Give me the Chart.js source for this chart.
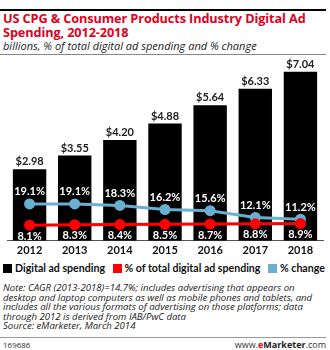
<!DOCTYPE html>
<html>
<head>
<meta charset="utf-8">
<script src="https://cdn.jsdelivr.net/npm/chart.js@4.4.1/dist/chart.umd.min.js"></script>
<style>
  body { margin: 0; width: 330px; height: 350px; background: #fff; font-family: "Open Sans", sans-serif; position: relative; overflow: hidden; }
  .topline { position: absolute; left: 0; top: 9px; width: 326px; height: 2px; background: #000; }
  .title { position: absolute; left: 3px; top: 12px; width: 325px; color: #e2001a; font-weight: bold; font-size: 12.7px; line-height: 13.5px; letter-spacing: -0.1px; }
  .sub { position: absolute; left: 3px; top: 38px; font-style: italic; font-size: 11px; color: #222; }
  .subline { position: absolute; left: 0; top: 54px; width: 326px; height: 1px; background: #888; }
  #wrap { position: absolute; left: 0; top: 56px; width: 330px; height: 204px; }
  .legend { position: absolute; left: 3px; top: 262px; font-family: Lato, sans-serif; font-weight: bold; font-size: 10.6px; color: #111; white-space: nowrap; }
  .legend span.box { display: inline-block; width: 9px; height: 9px; margin-right: 3px; vertical-align: -1px; }
  .legend span.item { margin-right: 5px; }
  .note { position: absolute; left: 3px; top: 283px; width: 318px; font-style: italic; font-size: 9.6px; line-height: 9.6px; color: #222; }
  .footline { position: absolute; left: 0; top: 337px; width: 326px; height: 1px; background: #999; }
  .code { position: absolute; left: 3px; top: 339px; font-size: 8px; color: #333; }
  .site { position: absolute; right: 4px; top: 338px; font-size: 9px; color: #333; }
  .site b { color: #222; }
  .site b.e { color: #e2001a; }
</style>
</head>
<body>
<div class="topline"></div>
<div class="title">US CPG &amp; Consumer Products Industry Digital Ad Spending, 2012-2018</div>
<div class="sub">billions, % of total digital ad spending and % change</div>
<div class="subline"></div>
<div id="wrap"><canvas id="chart"></canvas></div>
<div class="legend">
  <span class="item"><span class="box" style="background:#000"></span>Digital ad spending</span>
  <span class="item"><span class="box" style="background:#ff0000"></span>% of total digital ad spending</span>
  <span class="item"><span class="box" style="background:#6aaed0"></span>% change</span>
</div>
<div class="note">Note: CAGR (2013-2018)=14.7%; includes advertising that appears on desktop and laptop computers as well as mobile phones and tablets, and includes all the various formats of advertising on those platforms; data through 2012 is derived from IAB/PwC data<br>Source: eMarketer, March 2014</div>
<div class="footline"></div>
<div class="code">169686</div>
<div class="site">www.<b class="e">e</b><b>Marketer</b>.com</div>

<script>
var years = ['2012', '2013', '2014', '2015', '2016', '2017', '2018'];
var spending = [2.98, 3.55, 4.20, 4.88, 5.64, 6.33, 7.04];
var shareOfTotal = [8.1, 8.3, 8.4, 8.5, 8.7, 8.8, 8.9];
var pctChange = [19.1, 19.1, 18.3, 16.2, 15.6, 12.1, 11.2];

// value labels: $ above bars, % change above blue points, share below red points
var valueLabels = {
  id: 'valueLabels',
  afterDatasetsDraw: function (chart) {
    var ctx = chart.ctx;
    ctx.save();
    ctx.textAlign = 'center';
    ctx.font = 'bold 11px Lato, "Open Sans", sans-serif';

    chart.getDatasetMeta(2).data.forEach(function (bar, i) {
      ctx.fillStyle = '#222';
      ctx.textBaseline = 'bottom';
      ctx.fillText('$' + spending[i].toFixed(2), bar.x, bar.y - 2);
    });
    chart.getDatasetMeta(1).data.forEach(function (pt, i) {
      ctx.fillStyle = '#fff';
      ctx.textBaseline = 'middle';
      ctx.fillText(pctChange[i].toFixed(1) + '%', pt.x, pt.y - 12);
    });
    chart.getDatasetMeta(0).data.forEach(function (pt, i) {
      ctx.fillStyle = '#fff';
      ctx.textBaseline = 'middle';
      ctx.fillText(shareOfTotal[i].toFixed(1) + '%', pt.x, pt.y + 11);
    });
    ctx.restore();
  }
};

new Chart(document.getElementById('chart'), {
  type: 'bar',
  data: {
    labels: years,
    datasets: [
      {
        type: 'line',
        label: '% of total digital ad spending',
        data: shareOfTotal,
        yAxisID: 'y2',
        borderColor: '#ff0000',
        backgroundColor: '#ff0000',
        borderWidth: 3,
        pointRadius: 4,
        tension: 0
      },
      {
        type: 'line',
        label: '% change',
        data: pctChange,
        yAxisID: 'y2',
        borderColor: '#6aaed0',
        backgroundColor: '#6aaed0',
        borderWidth: 3,
        pointRadius: 4,
        tension: 0
      },
      {
        label: 'Digital ad spending',
        data: spending,
        yAxisID: 'y',
        backgroundColor: '#000',
        categoryPercentage: 1,
        barPercentage: 0.74
      }
    ]
  },
  options: {
    responsive: true,
    maintainAspectRatio: false,
    animation: false,
    layout: { padding: { top: 4, left: 1, right: 1, bottom: 0 } },
    plugins: {
      legend: { display: false },
      tooltip: { enabled: false }
    },
    scales: {
      x: {
        grid: { display: false, drawTicks: false },
        border: { color: '#555', width: 1 },
        ticks: {
          padding: 3,
          color: '#111',
          font: { family: 'Lato, "Open Sans", sans-serif', size: 11, weight: 'bold' }
        }
      },
      y: { display: false, min: 0, max: 7.4 },
      y2: { display: false, min: 0, max: 92 }
    }
  },
  plugins: [valueLabels]
});
</script>
</body>
</html>
